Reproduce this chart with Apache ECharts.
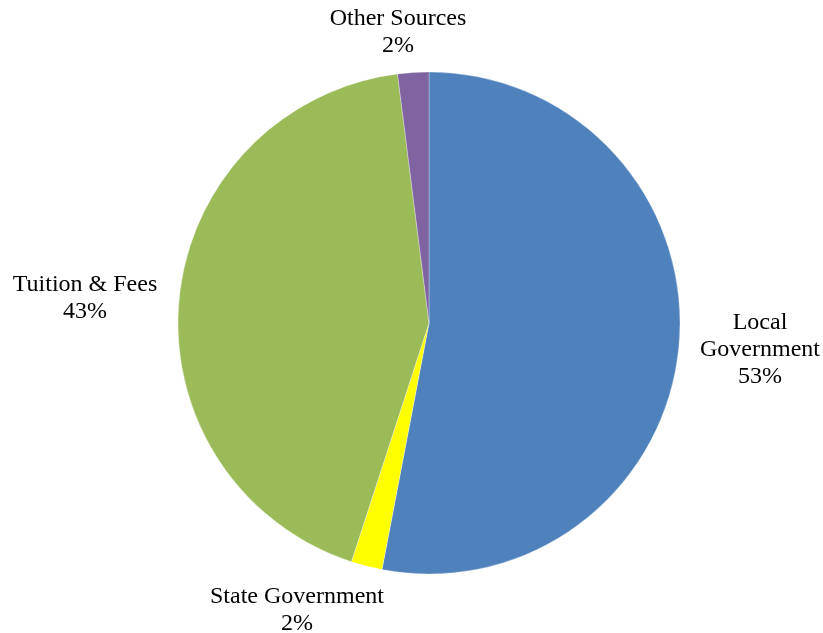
<!DOCTYPE html>
<html>
<head>
<meta charset="utf-8">
<style>
  html, body { margin: 0; padding: 0; background: #ffffff; }
  #chart { width: 823px; height: 633px; }
</style>
<script src="https://cdn.jsdelivr.net/npm/echarts@6/dist/echarts.min.js"></script>
</head>
<body>
<div id="chart"></div>
<script>
// Revenue sources, share of total (%)
const categories = ['Local Government', 'State Government', 'Tuition & Fees', 'Other Sources'];
const shares = [53, 2, 43, 2];
const labelTexts = ['Local\nGovernment', 'State Government', 'Tuition & Fees', 'Other Sources'];
const colors = ['#4F81BD', '#FFFF00', '#9BBB59', '#8064A2'];

// Label centres placed around the pie
const labelSpots = [[760, 350], [297, 610], [85, 298], [398, 32]];

const chart = echarts.init(document.getElementById('chart'), null, { renderer: 'canvas' });

chart.setOption({
  animation: false,
  backgroundColor: '#ffffff',
  series: [{
    type: 'pie',
    center: [429, 323],
    radius: 251,
    startAngle: 90,
    clockwise: true,
    avoidLabelOverlap: false,
    data: categories.map((name, i) => ({
      name: name,
      value: shares[i],
      itemStyle: { color: colors[i] }
    })),
    itemStyle: { borderColor: 'rgba(255,255,255,0.6)', borderWidth: 0.5 },
    label: {
      show: true,
      position: 'outside',
      fontFamily: '"Liberation Serif", "Times New Roman", serif',
      fontSize: 24,
      lineHeight: 27,
      color: '#000000',
      align: 'center',
      formatter: p => labelTexts[p.dataIndex] + '\n' + p.value + '%'
    },
    labelLine: { show: false },
    labelLayout: p => ({
      x: labelSpots[p.dataIndex][0],
      y: labelSpots[p.dataIndex][1],
      align: 'center',
      verticalAlign: 'middle'
    }),
    emphasis: { disabled: true }
  }]
});
</script>
</body>
</html>
